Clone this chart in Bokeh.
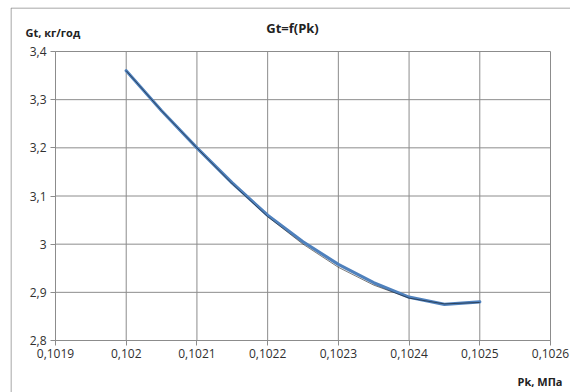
from bokeh.plotting import figure
from bokeh.models import FixedTicker, Label, Range1d
from bokeh.embed import file_html
from bokeh.resources import INLINE

# ---- data ----
pk = [0.1020, 0.10205, 0.1021, 0.10215, 0.1022, 0.10225, 0.1023, 0.10235, 0.1024, 0.10245, 0.1025]
gt_smooth = [3.36, 3.277, 3.20, 3.127, 3.06, 3.005, 2.958, 2.92, 2.89, 2.875, 2.88]
gt_thin = [3.36, 3.277, 3.20, 3.125, 3.057, 3.0, 2.952, 2.915, 2.888, 2.876, 2.879]

x_ticks = [0.1019, 0.1020, 0.1021, 0.1022, 0.1023, 0.1024, 0.1025, 0.1026]
x_tick_labels = ["0,1019", "0,102", "0,1021", "0,1022", "0,1023", "0,1024", "0,1025", "0,1026"]
y_ticks = [2.8, 2.9, 3.0, 3.1, 3.2, 3.3, 3.4]
y_tick_labels = ["2,8", "2,9", "3", "3,1", "3,2", "3,3", "3,4"]

title_text = "Gt=f(Pk)"
y_title = "Gt, кг/год"
x_title = "Pk, МПа"

# ---- layout (pixels) ----
W, H = 570, 392
CH_L, CH_T = 10, 7            # outer chart area edge
PA_L, PA_R, PA_T, PA_B = 55, 550, 51, 340   # plot area
FONT = "Open Sans"
GRID = "#8c8c8c"

X0, X1 = x_ticks[0], x_ticks[-1]
Y0, Y1 = y_ticks[0], y_ticks[-1]
sx = (PA_R - PA_L) / (X1 - X0)
sy = (PA_B - PA_T) / (Y1 - Y0)
FW, FH = W - CH_L, H - CH_T
xs = X0 - (PA_L - CH_L) / sx
ys = Y0 - (H - PA_B) / sy
xe = xs + FW / sx
ye = ys + FH / sy

p = figure(width=W, height=H, output_backend="svg", toolbar_location=None,
           x_range=Range1d(xs, xe), y_range=Range1d(ys, ye),
           min_border_left=CH_L, min_border_top=CH_T, min_border_right=0, min_border_bottom=0)
p.background_fill_color = "white"
p.border_fill_color = "white"
p.outline_line_color = None
p.outline_line_alpha = 0
p.grid.visible = False

# grid lines of the plot area, at the tick positions
p.segment(x0=x_ticks, y0=[Y0] * len(x_ticks), x1=x_ticks, y1=[Y1] * len(x_ticks),
          line_color=GRID, line_width=1)
p.segment(x0=[X0] * len(y_ticks), y0=y_ticks, x1=[X1] * len(y_ticks), y1=y_ticks,
          line_color=GRID, line_width=1)

# outer chart border: top and left edges only (the rest lies outside the window)
bx = xs + 0.5 / sx
by = ye - 0.5 / sy
p.segment(x0=[bx, bx], y0=[ys, by], x1=[bx, xe], y1=[by, by],
          line_color="#8a8a8a", line_width=1)

p.xaxis.fixed_location = Y0
p.yaxis.fixed_location = X0
for ax, ticks, labels, b in ((p.xaxis[0], x_ticks, x_tick_labels, (X0, X1)),
                             (p.yaxis[0], y_ticks, y_tick_labels, (Y0, Y1))):
    ax.ticker = FixedTicker(ticks=ticks)
    ax.bounds = b
    ax.major_label_overrides = {t: l for t, l in zip(ticks, labels)}
    ax.axis_line_color = GRID
    ax.major_tick_line_color = GRID
    ax.major_tick_out = 5
    ax.major_tick_in = 0
    ax.minor_tick_line_color = None
    ax.major_label_text_font = FONT
    ax.major_label_text_font_size = "12px"
    ax.major_label_text_color = "#303030"
p.xaxis.major_label_standoff = 3
p.yaxis.major_label_standoff = 4

p.line(pk, gt_smooth, line_color="#4F81BD", line_width=3.2, line_join="round", line_cap="round")
p.line(pk, gt_thin, line_color="#111111", line_width=0.8, line_alpha=0.7, line_join="round")

def lab(px, py, text, align, size):
    return Label(x=px - CH_L, y=H - py, x_units="screen", y_units="screen", text=text,
                 text_align=align, text_baseline="middle", text_font=FONT,
                 text_font_style="bold", text_font_size=size, text_color="#222222")

p.add_layout(lab(292, 27, title_text, "center", "13px"))
p.add_layout(lab(25, 32, y_title, "left", "11px"))
p.add_layout(lab(562, 381, x_title, "right", "11px"))

open("out.html", "w").write(file_html(p, INLINE))
